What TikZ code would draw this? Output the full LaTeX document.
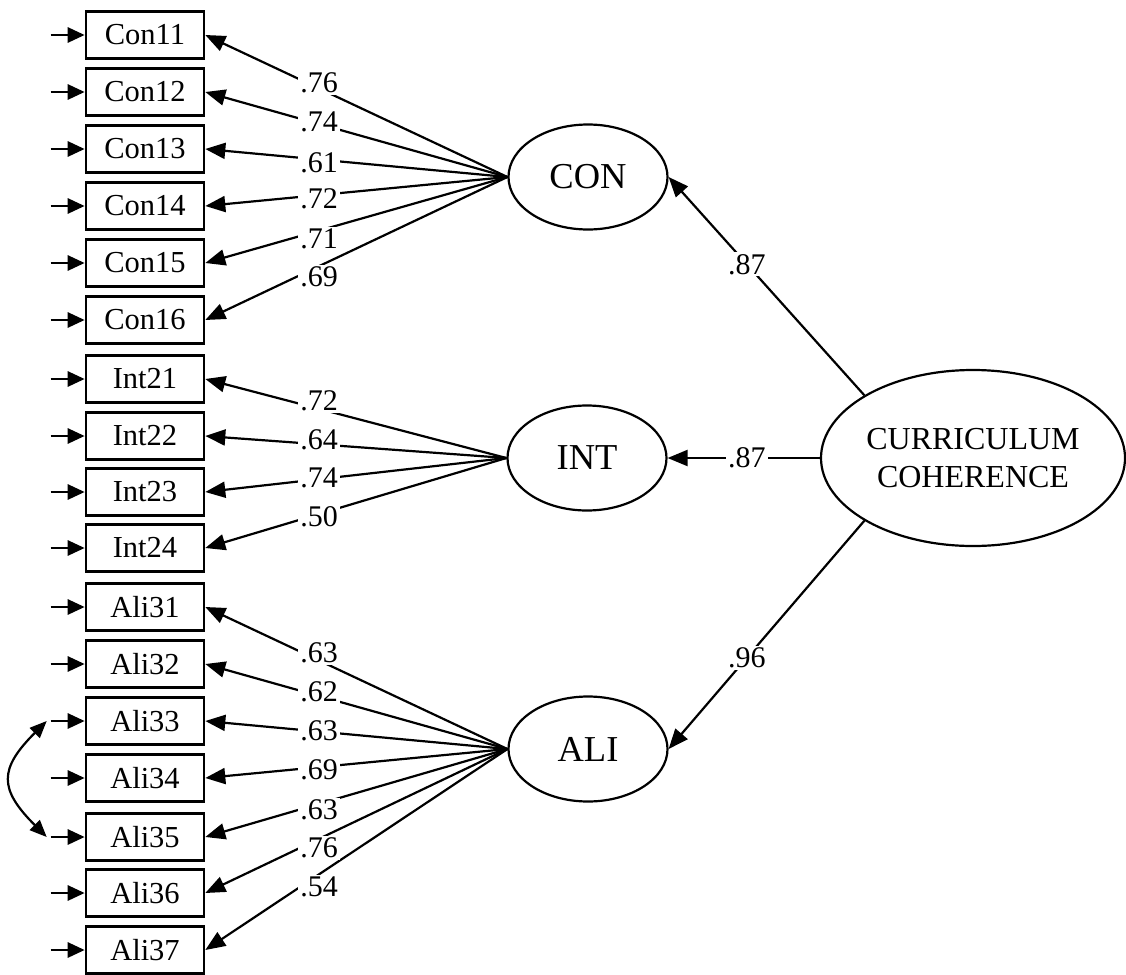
\documentclass[tikz,border=0pt]{standalone}
\usepackage{fontspec}
\setmainfont{Liberation Serif}
\usetikzlibrary{arrows.meta,shapes.geometric}

\tikzstyle{obs} = [draw, rectangle, line width=2.6pt, minimum width=118pt,
    minimum height=47pt, inner sep=0pt, font=\fontsize{30.5}{36}\selectfont]
\tikzstyle{latent} = [draw, ellipse, line width=2.2pt, minimum width=159pt,
    minimum height=105pt, inner sep=0pt, font=\fontsize{36.5}{44}\selectfont]
\tikzstyle{lbl} = [fill=white, inner sep=2pt, font=\fontsize{30}{36}\selectfont]
\tikzstyle{arr} = [-{Triangle[length=20pt,width=16pt]}, line width=2.2pt]
\tikzstyle{err} = [-{Triangle[length=17pt,width=15pt]}, line width=2.8pt]

\begin{document}
\begin{tikzpicture}[x=1pt,y=-1pt]
      \useasboundingbox (0,0) rectangle (1126,974);

      % latent variables
      \node [latent] (CON) at (588,177) {CON};
      \node [latent] (INT) at (587,458) {INT};
      \node [latent] (ALI) at (588,749) {ALI};
      \node [latent, minimum width=304pt, minimum height=176pt, align=center,
             font=\fontsize{32}{37.7}\selectfont] (CC) at (973,458) {CURRICULUM\\COHERENCE};

      % observed items
      \node [obs] (c11) at (145,35) {Con11};
      \node [obs] (c12) at (145,92) {Con12};
      \node [obs] (c13) at (145,149) {Con13};
      \node [obs] (c14) at (145,206) {Con14};
      \node [obs] (c15) at (145,263) {Con15};
      \node [obs] (c16) at (145,320) {Con16};
      \node [obs] (i21) at (145,379) {Int21};
      \node [obs] (i22) at (145,436) {Int22};
      \node [obs] (i23) at (145,492) {Int23};
      \node [obs] (i24) at (145,548) {Int24};
      \node [obs] (a31) at (145,607) {Ali31};
      \node [obs] (a32) at (145,664) {Ali32};
      \node [obs] (a33) at (145,721) {Ali33};
      \node [obs] (a34) at (145,778) {Ali34};
      \node [obs] (a35) at (145,837) {Ali35};
      \node [obs] (a36) at (145,893) {Ali36};
      \node [obs] (a37) at (145,950) {Ali37};

      % error arrows
      \foreach \n in {c11,c12,c13,c14,c15,c16,i21,i22,i23,i24,a31,a32,a33,a34,a35,a36,a37}
        \draw [err] ([xshift=-34pt]\n.west) -- (\n.west);
      \coordinate (e33) at ([xshift=-38pt]a33.west);
      \coordinate (e35) at ([xshift=-38pt]a35.west);
      \draw [{Triangle[length=17pt,width=14pt]}-{Triangle[length=17pt,width=14pt]}, line width=2.2pt]
        (e33) to[out=225,in=135,looseness=1.5] (e35);

      % loadings
      \foreach \n in {c11,c12,c13,c14,c15,c16}
        \draw [arr] (CON.west) -- (\n.east);
      \foreach \n in {i21,i22,i23,i24}
        \draw [arr] (INT.west) -- (\n.east);
      \foreach \n in {a31,a32,a33,a34,a35,a36,a37}
        \draw [arr] (ALI.west) -- (\n.east);

      \foreach \v/\y [count=\i] in {.76/83,.74/122,.61/163,.72/199,.71/239,.69/277}
        \node [lbl] (lc\i) at (319,\y) {\v};
      \foreach \v/\y [count=\i] in {.72/401,.64/440,.74/478,.50/517}
        \node [lbl] (li\i) at (319,\y) {\v};
      \foreach \v/\y [count=\i] in {.63/653,.62/692,.63/731,.69/770,.63/810,.76/848,.54/887}
        \node [lbl] (la\i) at (319,\y) {\v};

      % second order
      \draw [arr] (CC.150) -- node [lbl, pos=0.6] {.87} (CON.east);
      \draw [arr] (CC.west) -- node [lbl, pos=0.48] {.87} (INT.east);
      \draw [arr] (CC.210) -- node [lbl, pos=0.6] {.96} (ALI.east);
    \end{tikzpicture}
\end{document}
